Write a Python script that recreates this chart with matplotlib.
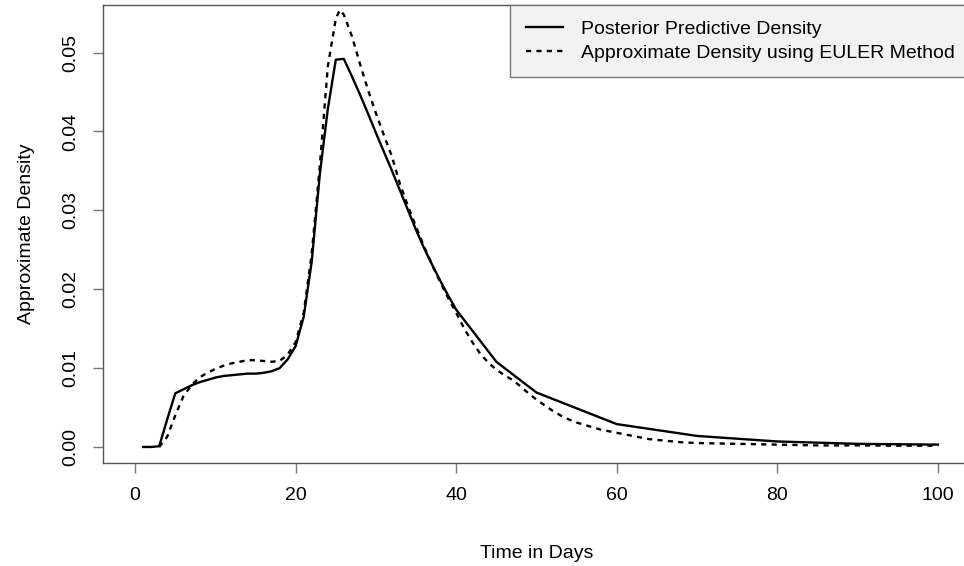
import matplotlib
matplotlib.use("Agg")
import matplotlib.pyplot as plt

plt.rcParams["font.family"] = ["Liberation Sans", "DejaVu Sans"]

# posterior predictive density (solid)
days_post = [1, 2, 3, 4, 5, 6, 7, 8, 9, 10, 11, 12, 13, 14, 15, 16, 17, 18, 19, 20,
             21, 22, 23, 24, 25, 26, 27, 28, 29, 30, 31, 32, 33, 34, 35, 36, 37, 38,
             39, 40, 45, 50, 60, 70, 80, 90, 100]
dens_post = [0.0, 0.0, 0.0001, 0.0035, 0.0068, 0.0073, 0.0078, 0.0082, 0.0085, 0.0088,
             0.0090, 0.0091, 0.0092, 0.0093, 0.0093, 0.0094, 0.0096, 0.0100, 0.0111, 0.0128,
             0.0165, 0.0235, 0.0345, 0.0428, 0.0491, 0.0492, 0.0470, 0.0447, 0.0423, 0.0398,
             0.0374, 0.0350, 0.0325, 0.0300, 0.0275, 0.0252, 0.0231, 0.0211, 0.0192, 0.0174,
             0.0108, 0.0069, 0.0029, 0.0014, 0.0007, 0.0004, 0.0003]

# approximate density via Euler method (dashed)
days_euler = [3, 4, 5, 6, 7, 8, 9, 10, 11, 12, 13, 14, 15, 16, 17, 18, 19, 20, 21, 22,
              23, 24, 25, 25.5, 26, 27, 28, 29, 30, 31, 32, 33, 34, 35, 36, 37, 38, 39, 40,
              41, 42, 43, 44, 45, 46, 47, 48, 49, 50, 51, 52, 53, 54, 55, 56, 57, 58, 59,
              60, 62, 64, 66, 68, 70, 75, 80, 85, 90, 95, 100]
dens_euler = [0.0, 0.0013, 0.0040, 0.0064, 0.0078, 0.0088, 0.0094, 0.0099, 0.0103, 0.0106,
              0.0108, 0.0110, 0.0110, 0.0109, 0.0108, 0.0109, 0.0117, 0.0133, 0.0170, 0.0245,
              0.0355, 0.0482, 0.0543, 0.0554, 0.0548, 0.0521, 0.0486, 0.0453, 0.0423, 0.0395,
              0.0368, 0.0333, 0.0305, 0.0279, 0.0254, 0.0231, 0.0209, 0.0189, 0.0170, 0.0150,
              0.0133, 0.0118, 0.0107, 0.0098, 0.0091, 0.0085, 0.0077, 0.0068, 0.0060, 0.0053,
              0.0046, 0.0040, 0.0035, 0.0031, 0.0028, 0.0025, 0.0022, 0.0020, 0.0018, 0.0014,
              0.0010, 0.0008, 0.0006, 0.0005, 0.0004, 0.0003, 0.0002, 0.0002, 0.00016, 0.00016]

x_ticks = [0, 20, 40, 60, 80, 100]
y_ticks = [0.00, 0.01, 0.02, 0.03, 0.04, 0.05]

fig = plt.figure(figsize=(9.64, 5.66), dpi=100)
ax = fig.add_axes([103 / 964, 103 / 566, 867 / 964, 458 / 566])

ax.plot(days_post, dens_post, color="black", lw=1.7, label="Posterior Predictive Density")
ax.plot(days_euler, dens_euler, color="black", lw=1.7, ls=(0, (2.2, 2.2)),
        label="Approximate Density using EULER Method")

ax.set_xlim(-4, 104)
ax.set_ylim(-0.00203, 0.05603)
ax.set_xticks(x_ticks)
ax.set_xticklabels([str(v) for v in x_ticks])
ax.set_yticks(y_ticks)
ax.set_yticklabels([f"{v:.2f}" for v in y_ticks], rotation=90, va="center")
ax.tick_params(length=7, width=1, color="#777777", labelsize=14, pad=10)
for sp in ax.spines.values():
    sp.set_color("#555555")
    sp.set_linewidth(1)

ax.set_xlabel("Time in Days", fontsize=14, labelpad=30)
ax.set_ylabel("Approximate Density", fontsize=14, labelpad=20)

leg = ax.legend(loc="upper right", frameon=True, fancybox=False, fontsize=14,
                borderaxespad=0, handlelength=1.95, handletextpad=0.9,
                labelspacing=0.35, borderpad=0.78)
leg.get_frame().set_facecolor("#f2f2f2")
leg.get_frame().set_edgecolor("#777777")
leg.get_frame().set_linewidth(1)
leg.get_frame().set_alpha(1)

fig.savefig("out.png", dpi=100)
